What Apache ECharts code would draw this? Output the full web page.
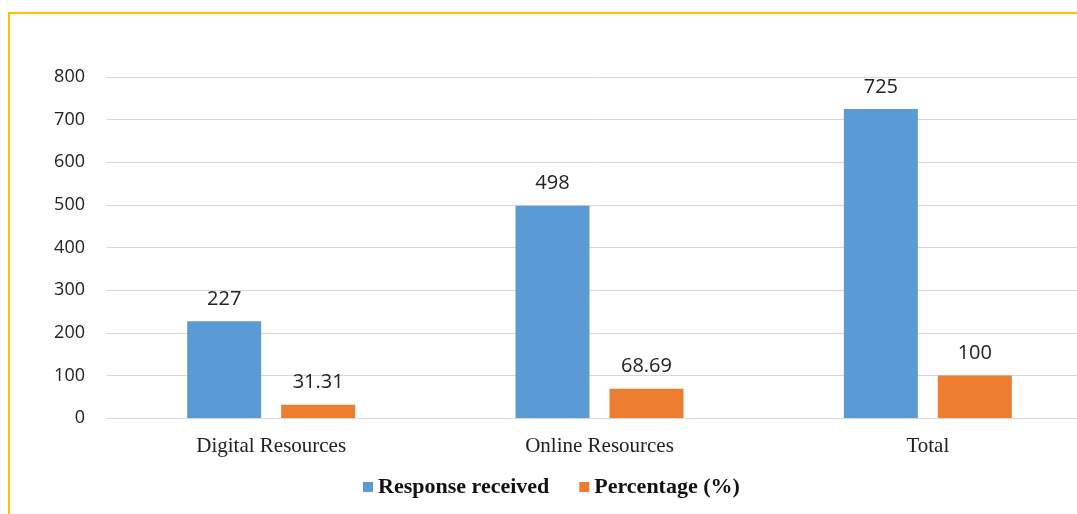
<!DOCTYPE html>
<html>
<head>
<meta charset="utf-8">
<script src="https://cdn.jsdelivr.net/npm/echarts@6/dist/echarts.min.js"></script>
<style>
  html, body { margin: 0; padding: 0; background: #fff; overflow: hidden; }
  #chart { position: absolute; left: 0; top: 0; width: 1100px; height: 514px; }
  #frame { position: absolute; left: 8px; top: 12px; width: 1100px; height: 520px;
           border-left: 2px solid #FFC000; border-top: 2px solid #FFC000; pointer-events: none; }
</style>
</head>
<body>
<div id="chart"></div>
<div id="frame"></div>
<script>
// data
var categories = ['Digital Resources', 'Online Resources', 'Total'];
var responses = [227, 498, 725];
var percentage = [31.31, 68.69, 100];

var chart = echarts.init(document.getElementById('chart'));

var labelStyle = {
    show: true,
    position: 'top',
    distance: 12,
    color: '#222',
    fontFamily: 'Open Sans',
    fontSize: 20
};

var option = {
    animation: false,
    grid: { left: 107, right: 8, top: 77, bottom: 96 },
    legend: {
        data: ['Response received', 'Percentage (%)'],
        bottom: 11,
        left: 358,
        itemWidth: 10,
        itemHeight: 10,
        itemGap: 30,
        icon: 'rect',
        textStyle: {
            fontFamily: 'Liberation Serif',
            fontWeight: 'bold',
            fontSize: 22,
            color: '#111'
        }
    },
    xAxis: {
        type: 'category',
        data: categories,
        axisLine: { lineStyle: { color: '#d9d9d9' } },
        axisTick: { show: false },
        axisLabel: {
            margin: 18,
            color: '#222',
            fontFamily: 'Liberation Serif',
            fontSize: 21
        }
    },
    yAxis: {
        type: 'value',
        min: 0,
        max: 800,
        interval: 100,
        axisLine: { show: false },
        axisTick: { show: false },
        splitLine: { lineStyle: { color: '#d9d9d9' } },
        axisLabel: {
            margin: 22,
            color: '#222',
            fontFamily: 'Open Sans',
            fontSize: 18
        }
    },
    series: [
        {
            name: 'Response received',
            type: 'bar',
            data: responses,
            barWidth: 74,
            barGap: '27%',
            itemStyle: { color: '#5B9BD5' },
            label: labelStyle
        },
        {
            name: 'Percentage (%)',
            type: 'bar',
            data: percentage,
            barWidth: 74,
            itemStyle: { color: '#ED7D31' },
            label: labelStyle
        }
    ]
};

chart.setOption(option);
</script>
</body>
</html>
